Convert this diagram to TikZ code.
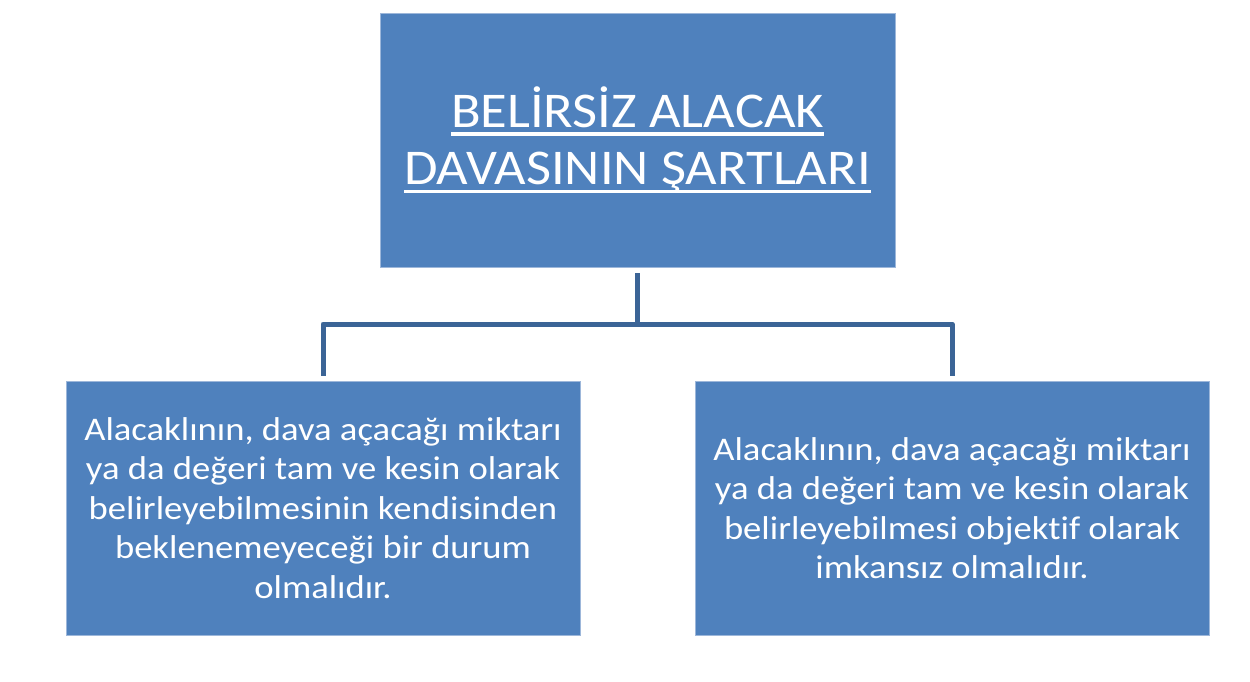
\documentclass[tikz,border=0pt]{standalone}
\usepackage{fontspec}
\setmainfont{Carlito}
\newfontfamily\titlefont{Carlito}[FakeStretch=1.09,Ligatures=NoCommon]
\newfontfamily\bodyfont{Carlito}[FakeStretch=1.11,Ligatures=NoCommon]
\definecolor{boxblue}{HTML}{4F81BD}
\definecolor{boxedge}{HTML}{9DB7DA}
\definecolor{connblue}{HTML}{3B6496}
\newcommand\ulline[1]{\leavevmode\setbox0=\hbox{#1}\rlap{\rule[-8.5pt]{\wd0}{3.5pt}}\box0}
\tikzset{
  bluebox/.style={rectangle, fill=boxblue, draw=boxedge, line width=0.8pt, inner sep=0pt,
    text=white, align=center, minimum width=514pt, minimum height=254pt},
  titletext/.style={font=\titlefont\fontsize{50}{57.5}\selectfont},
  bodytext/.style={font=\bodyfont\fontsize{33}{39.5}\selectfont},
  conn/.style={draw=connblue, line width=5pt, line join=round}
}
\begin{document}
\begin{tikzpicture}[x=1pt,y=-1pt]
\useasboundingbox[fill=white] (0,0) rectangle (1250,682);
\node[bluebox, titletext, minimum width=515pt] (top) at (637.5,140)
  {\ulline{BELİRSİZ ALACAK}\\\ulline{DAVASININ ŞARTLARI}};
\node[bluebox, bodytext] (left) at (323,508)
  {Alacaklının, dava açacağı miktarı\\ya da değeri tam ve kesin olarak\\belirleyebilmesinin kendisinden\\beklenemeyeceği bir durum\\olmalıdır.};
\node[bluebox, bodytext] (right) at (952,508)
  {Alacaklının, dava açacağı miktarı\\ya da değeri tam ve kesin olarak\\belirleyebilmesi objektif olarak\\imkansız olmalıdır.};
\coordinate (bus) at (637.5,324);
\draw[conn] ([yshift=-6pt]top.south) -- (bus);
\draw[conn] ([yshift=5pt]left.north) |- (bus) -| ([yshift=5pt]right.north);
\end{tikzpicture}
\end{document}
